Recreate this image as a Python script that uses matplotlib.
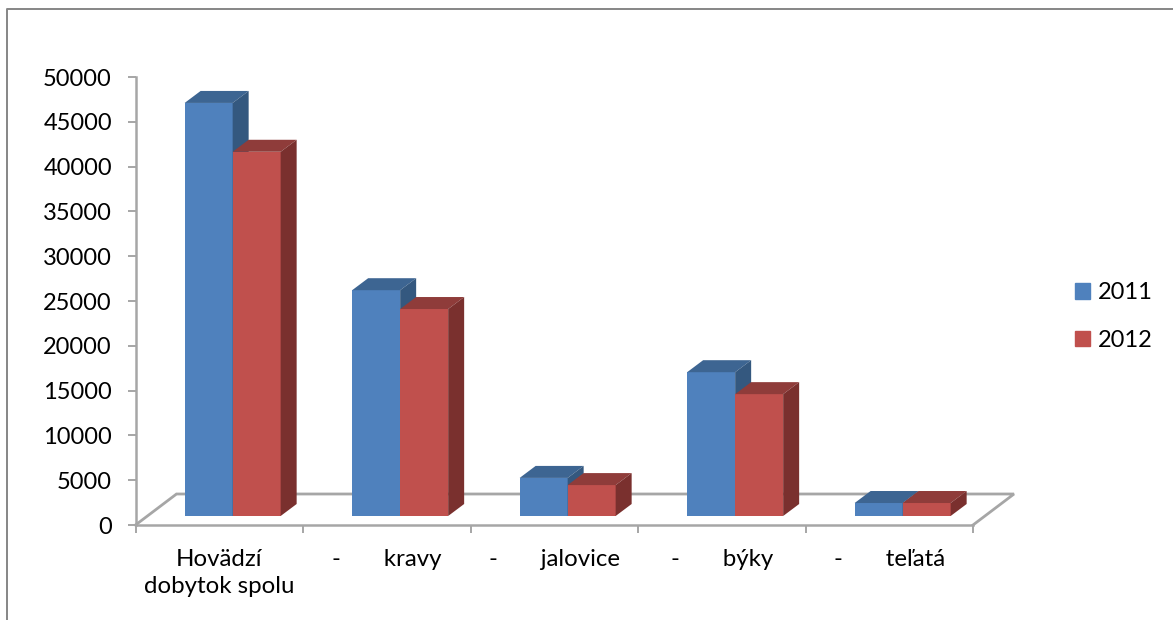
import matplotlib
matplotlib.use('Agg')
import matplotlib.pyplot as plt
from matplotlib.patches import Patch
from matplotlib.lines import Line2D

categories = ['Hovädzí\ndobytok spolu', '-       kravy', '-       jalovice', '-       býky', '-       teľatá']
years = ['2011', '2012']
values_2011 = [46100, 25200, 4250, 16050, 1450]
values_2012 = [40650, 23100, 3450, 13600, 1450]
y_ticks = [0, 5000, 10000, 15000, 20000, 25000, 30000, 35000, 40000, 45000, 50000]

W, H = 1173, 620
plt.rcParams['font.family'] = ['Lato', 'DejaVu Sans']
GREY = '#A6A6A6'

fig = plt.figure(figsize=(W / 100, H / 100), dpi=100)

# chart frame, only top and left are inside the crop
fig.add_artist(Line2D([6.5 / W, 6.5 / W, 1], [0, 1 - 9 / H, 1 - 9 / H], color='#868686', lw=1.4))

# axes box in pixels: x 135.5-973, y 525-77
ax = fig.add_axes([135.5 / W, 1 - 525 / H, 837.5 / W, 448 / H])
ax.set_xlim(0, 5)
ax.set_ylim(0, 50000)

# projection of the 3d look, in data units
px_x = 5 / 837.5
px_y = 50000 / 448
floor_dx, floor_dy = 41 * px_x, 31 * px_y
bar_dx, bar_dy = 16 * px_x, 12 * px_y
base = 9 * px_y
bar_w = 48 * px_x
shift = 0.08

# floor
ax.plot([0, floor_dx, 5 + floor_dx, 5], [0, floor_dy, floor_dy, 0],
        color=GREY, lw=2, clip_on=False, zorder=1, solid_joinstyle='miter')


def draw_bar(x0, val, front, top, side, z):
    ax.bar(x0, val, width=bar_w, bottom=base, align='edge', color=front, zorder=z)
    y1 = base + val
    x1 = x0 + bar_w
    ax.fill([x0, x0 + bar_dx, x1 + bar_dx, x1], [y1, y1 + bar_dy, y1 + bar_dy, y1],
            color=top, lw=0, zorder=z, clip_on=False)
    ax.fill([x1, x1 + bar_dx, x1 + bar_dx, x1], [base, base + bar_dy, y1 + bar_dy, y1],
            color=side, lw=0, zorder=z, clip_on=False)


for i in range(len(categories)):
    mid = i + 0.5 + shift
    draw_bar(mid - bar_w, values_2011[i], '#4F81BD', '#3D6592', '#34587F', 3)
    draw_bar(mid, values_2012[i], '#C0504D', '#8F3C3A', '#7A302E', 4)

for s in ['top', 'right']:
    ax.spines[s].set_visible(False)
for s in ['left', 'bottom']:
    ax.spines[s].set_color(GREY)
    ax.spines[s].set_linewidth(1.8)
    ax.spines[s].set_zorder(2)

ax.set_yticks(y_ticks)
ax.set_xticks(range(6))
ax.set_xticklabels([])
ax.set_xticks([i + 0.5 for i in range(5)], minor=True)
ax.set_xticklabels(categories, minor=True, fontsize=17.3, linespacing=1.4)
ax.tick_params(axis='x', which='major', length=6, width=1.4, color=GREY)
ax.tick_params(axis='x', which='minor', length=0, pad=17, labelcolor='black')
ax.tick_params(axis='y', length=6, width=1.4, color=GREY, labelsize=17, pad=11)

handles = [Patch(color='#4F81BD', label=years[0]), Patch(color='#C0504D', label=years[1])]
fig.legend(handles=handles, loc='center left', bbox_to_anchor=(1054 / W, 1 - 316.5 / H),
           frameon=False, fontsize=17, handlelength=0.64, handleheight=0.64,
           handletextpad=0.3, labelspacing=1.14)

plt.savefig('out.png', dpi=100)
